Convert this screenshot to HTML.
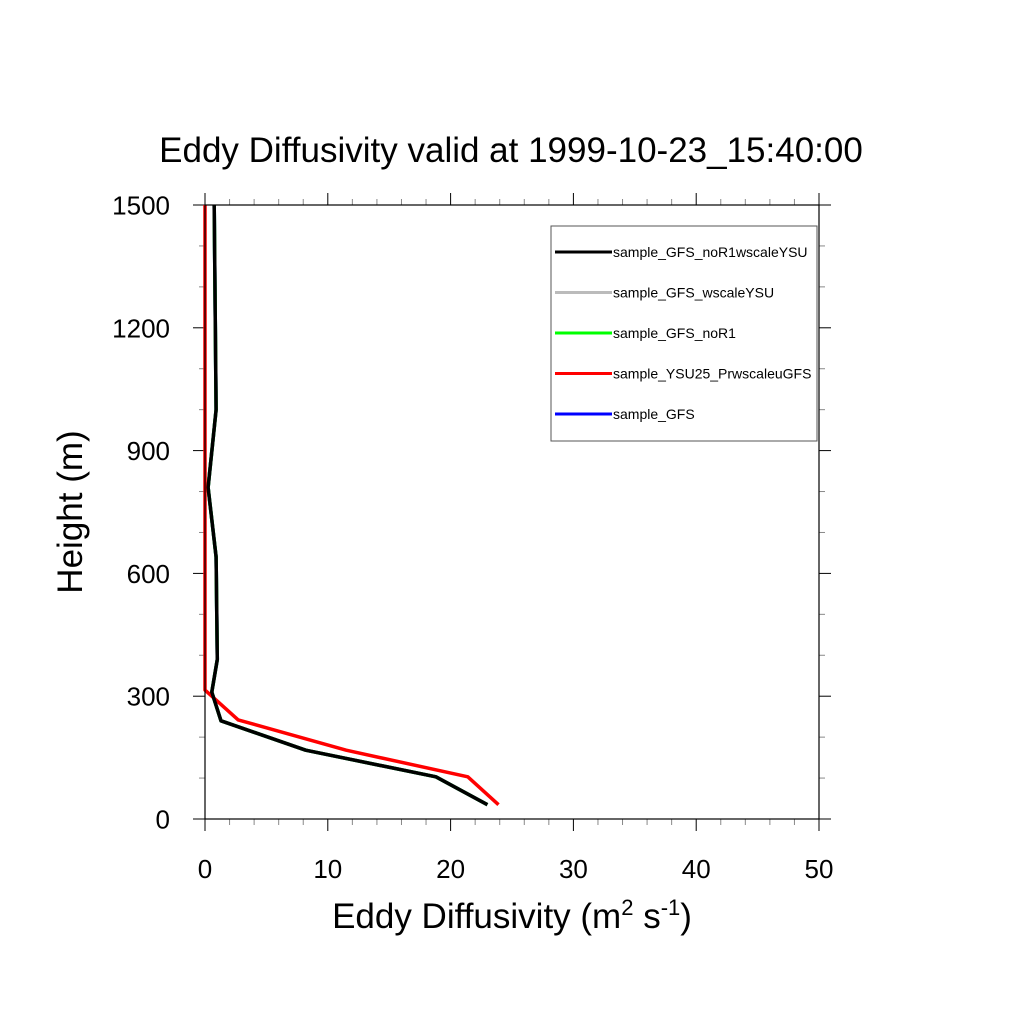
<!DOCTYPE html>
<html><head><meta charset="utf-8"><style>
html,body{margin:0;padding:0;background:#fff;}
svg{display:block;font-family:"Liberation Sans",sans-serif;}
</style></head><body>
<svg id="chart" width="1024" height="1024" viewBox="0 0 1024 1024">
<text x="511" y="162" font-size="35" text-anchor="middle">Eddy Diffusivity valid at 1999-10-23_15:40:00</text>
<g id="axes"></g>
<g id="series"></g>
<rect x="205" y="205" width="614" height="614" fill="none" stroke="#000" stroke-width="1.2"/>
<text x="512" y="928" font-size="35" text-anchor="middle">Eddy Diffusivity (m<tspan dy="-13" font-size="22">2</tspan><tspan dy="13"> s</tspan><tspan dy="-13" font-size="22">-1</tspan><tspan dy="13">)</tspan></text>
<text transform="translate(82,512) rotate(-90)" font-size="35" text-anchor="middle">Height (m)</text>
<g>
<rect x="551" y="226" width="266" height="215" fill="#fff" stroke="#555" stroke-width="1"/>
<g id="legend-items"></g>
</g>
</svg>
<script>
const heightsBlack = [1500, 1000, 810, 640, 390, 310, 240, 168, 103, 35];
const kmBlack = [0.75, 0.9, 0.25, 0.9, 1.0, 0.55, 1.3, 8.2, 18.8, 23.0];
const heightsRed = [1500, 315, 242, 168, 103, 35];
const kmRed = [0.0, 0.0, 2.7, 11.5, 21.4, 23.9];
const xTicks = [0, 10, 20, 30, 40, 50];
const yTicks = [0, 300, 600, 900, 1200, 1500];
const seriesNames = ["sample_GFS_noR1wscaleYSU","sample_GFS_wscaleYSU","sample_GFS_noR1","sample_YSU25_PrwscaleuGFS","sample_GFS"];
const seriesColors = ["#000","#bbb","#00ff00","#ff0000","#0000ff"];

const NS="http://www.w3.org/2000/svg";
const X0=205,X1=819,Y0=819,Y1=205;
const xs=v=>X0+(v-0)/(50-0)*(X1-X0);
const ys=v=>Y0-(v-0)/(1500-0)*(Y0-Y1);
function mk(tag,attrs,parent){const e=document.createElementNS(NS,tag);for(const k in attrs)e.setAttribute(k,attrs[k]);parent.appendChild(e);return e;}
const axes=document.getElementById('axes');
for(let v=0;v<=50;v+=2){
  const major=v%10===0;const L=major?12:6;const x=xs(v);
  let t=mk('line',{x1:x,y1:Y0,x2:x,y2:Y0+L,stroke:major?'#000':'#888','stroke-width':1},axes);
  
  
  t=mk('line',{x1:x,y1:Y1,x2:x,y2:Y1-L,stroke:major?'#000':'#888','stroke-width':1},axes);
  
  
}
for(let v=0;v<=1500;v+=100){
  const major=v%300===0;const L=major?12:6;const y=ys(v);
  let t=mk('line',{x1:X0,y1:y,x2:X0-L,y2:y,stroke:major?'#000':'#888','stroke-width':1},axes);
  
  
  t=mk('line',{x1:X1,y1:y,x2:X1+L,y2:y,stroke:major?'#000':'#888','stroke-width':1},axes);
  
  
}
xTicks.forEach(v=>{
  const t=mk('text',{x:xs(v),y:878,'font-size':26,'text-anchor':'middle'},axes);
  t.textContent=v;
  
  
});
yTicks.forEach(v=>{
  const t=mk('text',{x:170,y:ys(v)+9.5,'font-size':26,'text-anchor':'end'},axes);
  t.textContent=v;
  
  
});
const ser=document.getElementById('series');
function line(xv,yv,color,name){
  const pts=xv.map((v,i)=>xs(v).toFixed(1)+','+ys(yv[i]).toFixed(1)).join(' ');
  const p=mk('polyline',{points:pts,fill:'none',stroke:color,'stroke-width':3.5,'stroke-linejoin':'round'},ser);
  
  
}
line(kmBlack,heightsBlack,'#0000ff','line-sample-gfs');
line(kmBlack,heightsBlack,'#bbb','line-sample-gfs-wscaleysu');
line(kmBlack,heightsBlack,'#00ff00','line-sample-gfs-nor1');
line(kmRed,heightsRed,'#ff0000','line-sample-ysu25-prwscaleugfs');
line(kmBlack,heightsBlack,'#000','line-sample-gfs-nor1wscaleysu');
const lg=document.getElementById('legend-items');
seriesNames.forEach((n,i)=>{
  const y=252+i*40.5;
  const l=mk('line',{x1:555,y1:y,x2:612,y2:y,stroke:seriesColors[i],'stroke-width':3},lg);
  
  
  const t=mk('text',{x:613,y:y+5,'font-size':14},lg);
  t.textContent=n;
  
  
});
</script>
</body></html>
